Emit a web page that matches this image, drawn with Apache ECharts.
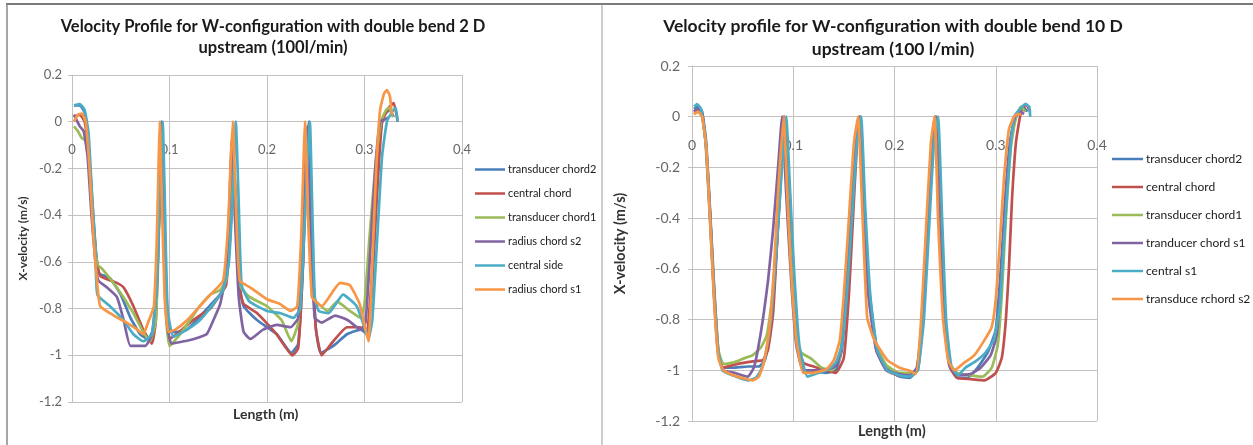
<!DOCTYPE html>
<html>
<head>
<meta charset="utf-8">
<script src="https://cdn.jsdelivr.net/npm/echarts@6/dist/echarts.min.js"></script>
<style>
html,body{margin:0;padding:0;background:#fff;}
#c{width:1253px;height:445px;}
</style>
</head>
<body>
<div id="c"></div>
<script>
// ---------- tick labels ----------
const xTickValues = [0, 0.1, 0.2, 0.3, 0.4];
const xTickLabels = ['0', '0.1', '0.2', '0.3', '0.4'];
const yTickValues = [0.2, 0, -0.2, -0.4, -0.6, -0.8, -1, -1.2];
const yTickLabels = ['0.2', '0', '-0.2', '-0.4', '-0.6', '-0.8', '-1', '-1.2'];

// ---------- titles / names ----------
const leftTitle = 'Velocity Profile for W-configuration with double bend 2 D\nupstream (100l/min)';
const rightTitle = 'Velocity profile for W-configuration with double bend 10 D\nupstream (100 l/min)';
const yName = 'X-velocity (m/s)';
const xName = 'Length (m)';

const leftNames = ['transducer chord2', 'central chord', 'transducer chord1', 'radius chord s2', 'central side', 'radius chord s1'];
const rightNames = ['transducer chord2', 'central chord', 'transducer chord1', 'tranducer chord s1', 'central s1', 'transduce rchord s2'];
const seriesColors = ['#4a7ebb', '#c0504d', '#9bbb59', '#8064a2', '#4bacc6', '#f79646'];

// ---------- LEFT chart data (double bend 2 D) [length m, x-velocity m/s] ----------
const L_tc2 = [[0.002,0.07],[0.008,0.07],[0.013,0.04],[0.017,-0.1],[0.021,-0.35],[0.025,-0.58],[0.028,-0.65],[0.039,-0.67],[0.05,-0.74],[0.06,-0.84],[0.07,-0.91],[0.078,-0.93],[0.085,-0.87],[0.088,-0.6],[0.091,-0.15],[0.092,0.0],[0.094,-0.3],[0.097,-0.75],[0.1,-0.9],[0.108,-0.9],[0.118,-0.89],[0.13,-0.84],[0.143,-0.78],[0.152,-0.74],[0.158,-0.68],[0.162,-0.5],[0.166,-0.2],[0.169,-0.4],[0.172,-0.7],[0.176,-0.79],[0.19,-0.85],[0.21,-0.91],[0.225,-0.99],[0.232,-0.95],[0.237,-0.6],[0.241,-0.1],[0.243,0.0],[0.246,-0.5],[0.25,-0.88],[0.255,-0.99],[0.268,-0.96],[0.282,-0.91],[0.296,-0.89],[0.303,-0.91],[0.308,-0.7],[0.312,-0.35],[0.316,-0.05],[0.32,0.03],[0.326,0.05],[0.33,0.02]];
const L_cc = [[0.002,0.02],[0.008,0.03],[0.013,0.0],[0.017,-0.12],[0.021,-0.38],[0.025,-0.58],[0.029,-0.66],[0.046,-0.69],[0.053,-0.71],[0.063,-0.79],[0.073,-0.89],[0.082,-0.95],[0.086,-0.85],[0.089,-0.45],[0.092,-0.02],[0.094,-0.35],[0.097,-0.8],[0.1,-0.93],[0.11,-0.9],[0.121,-0.86],[0.131,-0.83],[0.142,-0.8],[0.152,-0.74],[0.158,-0.7],[0.162,-0.5],[0.166,-0.18],[0.169,-0.45],[0.172,-0.72],[0.176,-0.78],[0.19,-0.82],[0.21,-0.91],[0.226,-1.0],[0.232,-0.97],[0.237,-0.6],[0.241,-0.05],[0.243,-0.02],[0.246,-0.5],[0.25,-0.88],[0.256,-1.0],[0.268,-0.94],[0.282,-0.88],[0.295,-0.88],[0.302,-0.89],[0.307,-0.7],[0.313,-0.3],[0.318,0.0],[0.325,0.06],[0.33,0.08],[0.334,0.0]];
const L_tc1 = [[0.002,-0.02],[0.006,-0.04],[0.01,-0.07],[0.014,-0.08],[0.018,-0.2],[0.022,-0.45],[0.026,-0.61],[0.031,-0.63],[0.046,-0.71],[0.063,-0.82],[0.073,-0.9],[0.08,-0.94],[0.086,-0.85],[0.089,-0.5],[0.091,-0.1],[0.093,-0.3],[0.096,-0.8],[0.1,-0.96],[0.111,-0.91],[0.121,-0.85],[0.131,-0.79],[0.142,-0.74],[0.152,-0.72],[0.158,-0.68],[0.162,-0.5],[0.166,-0.2],[0.169,-0.45],[0.172,-0.7],[0.182,-0.75],[0.2,-0.79],[0.215,-0.85],[0.225,-0.94],[0.232,-0.86],[0.236,-0.5],[0.24,-0.05],[0.242,-0.02],[0.245,-0.5],[0.249,-0.76],[0.253,-0.78],[0.262,-0.81],[0.272,-0.77],[0.285,-0.81],[0.296,-0.84],[0.3,-0.78],[0.305,-0.5],[0.311,-0.2],[0.317,0.0],[0.322,0.05],[0.325,0.06],[0.329,0.02]];
const L_rcs2 = [[0.002,0.03],[0.008,-0.02],[0.012,-0.04],[0.016,-0.15],[0.02,-0.4],[0.024,-0.6],[0.027,-0.68],[0.036,-0.71],[0.046,-0.75],[0.053,-0.85],[0.06,-0.96],[0.075,-0.96],[0.082,-0.91],[0.087,-0.7],[0.09,-0.3],[0.092,-0.05],[0.094,-0.4],[0.097,-0.85],[0.102,-0.95],[0.115,-0.94],[0.125,-0.93],[0.138,-0.91],[0.145,-0.85],[0.152,-0.78],[0.158,-0.65],[0.161,-0.4],[0.164,-0.08],[0.167,-0.4],[0.171,-0.75],[0.176,-0.9],[0.183,-0.93],[0.196,-0.89],[0.21,-0.87],[0.224,-0.88],[0.232,-0.84],[0.236,-0.5],[0.24,-0.05],[0.242,-0.02],[0.245,-0.5],[0.249,-0.84],[0.256,-0.86],[0.27,-0.83],[0.283,-0.85],[0.296,-0.89],[0.301,-0.86],[0.306,-0.55],[0.311,-0.2],[0.316,0.0],[0.321,0.01],[0.325,0.02]];
const L_cs = [[0.002,0.07],[0.008,0.075],[0.013,0.05],[0.017,-0.05],[0.021,-0.35],[0.024,-0.55],[0.026,-0.74],[0.039,-0.79],[0.053,-0.85],[0.063,-0.91],[0.073,-0.94],[0.082,-0.91],[0.087,-0.7],[0.09,-0.3],[0.093,0.0],[0.095,-0.3],[0.098,-0.8],[0.104,-0.92],[0.118,-0.89],[0.131,-0.85],[0.145,-0.78],[0.155,-0.72],[0.161,-0.6],[0.165,-0.3],[0.168,0.0],[0.171,-0.35],[0.174,-0.7],[0.182,-0.77],[0.2,-0.81],[0.214,-0.82],[0.227,-0.84],[0.234,-0.8],[0.239,-0.4],[0.244,0.0],[0.246,-0.3],[0.249,-0.75],[0.253,-0.81],[0.263,-0.82],[0.278,-0.74],[0.292,-0.79],[0.3,-0.88],[0.304,-0.93],[0.308,-0.85],[0.313,-0.5],[0.318,-0.15],[0.323,0.0],[0.328,0.04],[0.332,0.06],[0.334,0.0]];
const L_rcs1 = [[0.002,0.0],[0.006,0.03],[0.01,0.035],[0.014,0.0],[0.018,-0.2],[0.022,-0.5],[0.026,-0.7],[0.029,-0.79],[0.043,-0.83],[0.056,-0.86],[0.067,-0.89],[0.073,-0.91],[0.078,-0.86],[0.084,-0.79],[0.087,-0.5],[0.089,-0.15],[0.09,0.0],[0.092,-0.3],[0.095,-0.75],[0.099,-0.9],[0.106,-0.89],[0.118,-0.85],[0.131,-0.79],[0.142,-0.74],[0.155,-0.68],[0.16,-0.45],[0.163,-0.15],[0.165,0.0],[0.168,-0.35],[0.172,-0.68],[0.183,-0.71],[0.2,-0.76],[0.213,-0.78],[0.224,-0.81],[0.231,-0.79],[0.235,-0.5],[0.238,-0.1],[0.239,0.0],[0.242,-0.4],[0.246,-0.75],[0.25,-0.77],[0.256,-0.79],[0.275,-0.69],[0.285,-0.7],[0.295,-0.78],[0.304,-0.94],[0.308,-0.6],[0.312,-0.2],[0.316,0.05],[0.32,0.12],[0.323,0.135],[0.326,0.11],[0.328,0.03]];

// ---------- RIGHT chart data (double bend 10 D) ----------
const R_tc2 = [[0.002,0.03],[0.006,0.04],[0.01,0.02],[0.014,-0.1],[0.018,-0.38],[0.022,-0.68],[0.026,-0.92],[0.03,-0.99],[0.04,-0.99],[0.055,-0.985],[0.066,-0.985],[0.072,-0.96],[0.077,-0.86],[0.082,-0.62],[0.087,-0.3],[0.091,0.0],[0.095,-0.3],[0.099,-0.62],[0.104,-0.88],[0.11,-1.0],[0.12,-1.005],[0.132,-1.01],[0.142,-1.0],[0.148,-0.92],[0.153,-0.68],[0.158,-0.38],[0.162,-0.12],[0.166,0.0],[0.17,-0.35],[0.175,-0.68],[0.182,-0.9],[0.192,-0.99],[0.205,-1.025],[0.215,-1.03],[0.222,-1.0],[0.228,-0.82],[0.233,-0.45],[0.238,-0.1],[0.241,0.0],[0.245,-0.4],[0.25,-0.8],[0.255,-0.98],[0.262,-1.03],[0.272,-1.03],[0.282,-0.99],[0.292,-0.93],[0.3,-0.84],[0.305,-0.6],[0.31,-0.3],[0.316,-0.06],[0.322,0.02],[0.327,0.04],[0.331,0.02]];
const R_cc = [[0.002,0.02],[0.006,0.03],[0.01,0.01],[0.014,-0.12],[0.018,-0.4],[0.022,-0.7],[0.026,-0.93],[0.03,-0.99],[0.045,-0.975],[0.06,-0.965],[0.07,-0.96],[0.075,-0.92],[0.08,-0.78],[0.084,-0.5],[0.088,-0.2],[0.091,0.0],[0.095,-0.3],[0.099,-0.62],[0.104,-0.88],[0.11,-0.97],[0.12,-0.985],[0.132,-1.0],[0.142,-1.01],[0.15,-0.95],[0.155,-0.7],[0.159,-0.4],[0.163,-0.1],[0.166,0.0],[0.17,-0.35],[0.175,-0.7],[0.182,-0.92],[0.192,-1.0],[0.205,-1.02],[0.215,-1.02],[0.223,-1.0],[0.228,-0.8],[0.233,-0.45],[0.238,-0.1],[0.241,0.0],[0.245,-0.4],[0.25,-0.8],[0.255,-0.99],[0.262,-1.03],[0.275,-1.035],[0.289,-1.04],[0.3,-1.01],[0.306,-0.95],[0.31,-0.8],[0.313,-0.6],[0.316,-0.33],[0.32,-0.1],[0.325,0.02],[0.33,0.05],[0.334,0.02]];
const R_tc1 = [[0.002,0.01],[0.006,0.02],[0.01,0.0],[0.014,-0.12],[0.018,-0.4],[0.022,-0.7],[0.026,-0.92],[0.031,-0.975],[0.04,-0.97],[0.05,-0.955],[0.06,-0.94],[0.068,-0.91],[0.074,-0.86],[0.079,-0.72],[0.084,-0.45],[0.088,-0.15],[0.09,0.0],[0.094,-0.3],[0.099,-0.65],[0.103,-0.88],[0.108,-0.93],[0.118,-0.955],[0.128,-0.99],[0.138,-1.0],[0.146,-0.95],[0.151,-0.75],[0.156,-0.45],[0.161,-0.12],[0.165,0.0],[0.169,-0.35],[0.174,-0.68],[0.182,-0.9],[0.192,-0.98],[0.205,-1.01],[0.215,-1.01],[0.222,-1.0],[0.227,-0.8],[0.232,-0.45],[0.237,-0.1],[0.24,0.0],[0.244,-0.4],[0.249,-0.8],[0.254,-0.97],[0.262,-1.01],[0.275,-1.02],[0.287,-1.025],[0.296,-0.99],[0.302,-0.9],[0.306,-0.7],[0.31,-0.4],[0.315,-0.12],[0.32,0.0],[0.325,0.04],[0.329,0.02]];
const R_tcs1 = [[0.002,0.02],[0.006,0.03],[0.01,0.01],[0.014,-0.12],[0.018,-0.4],[0.022,-0.72],[0.026,-0.94],[0.031,-1.0],[0.042,-1.01],[0.055,-1.025],[0.061,-0.99],[0.065,-0.92],[0.07,-0.8],[0.075,-0.65],[0.08,-0.45],[0.085,-0.2],[0.089,0.0],[0.093,-0.3],[0.098,-0.65],[0.103,-0.9],[0.11,-1.0],[0.122,-1.0],[0.135,-0.995],[0.143,-0.98],[0.148,-0.9],[0.153,-0.65],[0.158,-0.35],[0.162,-0.08],[0.165,0.0],[0.169,-0.35],[0.174,-0.7],[0.182,-0.92],[0.192,-1.0],[0.205,-1.015],[0.215,-1.02],[0.222,-0.99],[0.227,-0.8],[0.232,-0.45],[0.237,-0.1],[0.24,0.0],[0.244,-0.4],[0.249,-0.8],[0.254,-0.98],[0.262,-1.02],[0.275,-1.015],[0.285,-0.99],[0.295,-0.94],[0.301,-0.86],[0.305,-0.65],[0.309,-0.35],[0.314,-0.1],[0.319,0.0],[0.324,0.02],[0.328,0.01]];
const R_cs1 = [[0.002,0.04],[0.005,0.05],[0.009,0.03],[0.013,-0.08],[0.017,-0.35],[0.021,-0.65],[0.025,-0.9],[0.03,-1.0],[0.04,-1.02],[0.055,-1.04],[0.063,-1.03],[0.068,-1.0],[0.073,-0.93],[0.078,-0.8],[0.083,-0.55],[0.088,-0.25],[0.093,0.0],[0.097,-0.3],[0.101,-0.62],[0.106,-0.9],[0.114,-1.025],[0.125,-1.01],[0.135,-0.995],[0.142,-0.97],[0.148,-0.9],[0.153,-0.7],[0.158,-0.4],[0.163,-0.1],[0.167,0.0],[0.171,-0.35],[0.176,-0.7],[0.183,-0.92],[0.193,-1.0],[0.205,-1.02],[0.215,-1.025],[0.223,-1.0],[0.229,-0.8],[0.234,-0.45],[0.239,-0.1],[0.243,0.0],[0.247,-0.4],[0.251,-0.8],[0.256,-0.98],[0.263,-1.02],[0.27,-0.99],[0.28,-0.965],[0.29,-0.93],[0.298,-0.88],[0.304,-0.75],[0.308,-0.5],[0.313,-0.2],[0.318,0.0],[0.324,0.03],[0.329,0.05],[0.333,0.04],[0.334,0.0]];
const R_tcs2 = [[0.002,0.01],[0.006,0.02],[0.01,0.0],[0.014,-0.12],[0.018,-0.42],[0.022,-0.74],[0.026,-0.95],[0.031,-1.0],[0.045,-1.025],[0.06,-1.04],[0.066,-1.025],[0.071,-0.97],[0.076,-0.85],[0.081,-0.6],[0.085,-0.3],[0.0905,0.0],[0.094,-0.3],[0.098,-0.62],[0.103,-0.88],[0.11,-1.01],[0.12,-1.01],[0.133,-0.995],[0.14,-0.96],[0.146,-0.88],[0.15,-0.7],[0.155,-0.4],[0.16,-0.1],[0.164,0.0],[0.168,-0.35],[0.173,-0.79],[0.18,-0.88],[0.193,-0.96],[0.205,-0.99],[0.214,-1.0],[0.221,-1.015],[0.226,-0.82],[0.231,-0.45],[0.236,-0.1],[0.2396,0.0],[0.243,-0.4],[0.248,-0.8],[0.253,-0.96],[0.259,-1.0],[0.269,-0.97],[0.279,-0.94],[0.289,-0.88],[0.296,-0.83],[0.3,-0.72],[0.304,-0.5],[0.308,-0.25],[0.313,-0.05],[0.318,0.0],[0.322,0.01],[0.325,0.01]];

const leftData = [L_tc2, L_cc, L_tc1, L_rcs2, L_cs, L_rcs1];
const rightData = [R_tc2, R_cc, R_tc1, R_tcs1, R_cs1, R_tcs2];

// ---------- build ----------
const gridColor = '#c6bfbf';
const fontFam = 'Lato, "Open Sans", sans-serif';
function lab(values, labels) {
  return function (v) {
    for (let i = 0; i < values.length; i++) if (Math.abs(values[i] - v) < 1e-6) return labels[i];
    return '';
  };
}
// x axis labels placed next to y = 0, via a negative offset from the grid bottom
function xAxisDef(gi, fs, margin, off) {
  return {
    type: 'value', gridIndex: gi, min: 0, max: 0.4, interval: 0.1, position: 'bottom', offset: off,
    axisLine: { show: false, onZero: false },
    axisTick: { show: false },
    axisLabel: { formatter: lab(xTickValues, xTickLabels), color: '#666', fontSize: fs, fontFamily: fontFam, margin: margin },
    splitLine: { show: true, lineStyle: { color: gridColor, width: 1 } }
  };
}
function yAxisDef(gi, fs, gap, nfs, lm) {
  return {
    type: 'value', gridIndex: gi, min: -1.2, max: 0.2, interval: 0.2,
    name: yName, nameLocation: 'middle', nameGap: gap, nameRotate: 90,
    nameTextStyle: { fontSize: nfs, fontWeight: 'bold', color: '#333', fontFamily: fontFam },
    axisLine: { show: true, lineStyle: { color: gridColor, width: 1 } },
    axisTick: { show: true, length: 4, lineStyle: { color: gridColor } },
    axisLabel: { formatter: lab(yTickValues, yTickLabels), color: '#666', fontSize: fs, fontFamily: fontFam, margin: lm },
    splitLine: { show: true, lineStyle: { color: gridColor, width: 1 } }
  };
}
const series = [];
leftNames.forEach((n, i) => series.push({
  name: n, type: 'line', xAxisIndex: 0, yAxisIndex: 0, data: leftData[i], symbol: 'none',
  smooth: 0.15, lineStyle: { width: 2.7, color: seriesColors[i] }, itemStyle: { color: seriesColors[i] }, z: 2 + i
}));
rightNames.forEach((n, i) => series.push({
  name: n, type: 'line', xAxisIndex: 1, yAxisIndex: 1, data: rightData[i], symbol: 'none',
  smooth: 0.15, lineStyle: { width: 2.7, color: seriesColors[i] }, itemStyle: { color: seriesColors[i] }, z: 2 + i
}));

const chart = echarts.init(document.getElementById('c'), null, { renderer: 'canvas' });
chart.setOption({
  backgroundColor: '#ffffff',
  animation: false,
  title: [
    { text: leftTitle, left: 268, top: 11, textAlign: 'center',
      textStyle: { fontSize: 16.5, fontWeight: 'bold', color: '#1a1a1a', fontFamily: fontFam, lineHeight: 21 } },
    { text: rightTitle, left: 888, top: 10, textAlign: 'center',
      textStyle: { fontSize: 17.5, fontWeight: 'bold', color: '#1a1a1a', fontFamily: fontFam, lineHeight: 23 } }
  ],
  legend: [
    { data: leftNames, orient: 'vertical', left: 470, top: 158, icon: 'rect', itemWidth: 30, itemHeight: 2.5, itemGap: 11,
      textStyle: { fontSize: 11, lineHeight: 13, color: '#1a1a1a', fontFamily: fontFam, padding: [0, 0, 0, -2] }, selectedMode: false },
    { data: rightNames, orient: 'vertical', left: 1107, top: 147, icon: 'rect', itemWidth: 31, itemHeight: 2.5, itemGap: 14,
      textStyle: { fontSize: 12, lineHeight: 14, color: '#1a1a1a', fontFamily: fontFam, padding: [0, 0, 0, -2] }, selectedMode: false }
  ],
  grid: [
    { left: 72, top: 75, width: 390, height: 327, containLabel: false },
    { left: 692, top: 66, width: 405, height: 355, containLabel: false }
  ],
  xAxis: [xAxisDef(0, 13, 21, -280), xAxisDef(1, 14, 22, -305)],
  yAxis: [yAxisDef(0, 13, 43, 12, 10), yAxisDef(1, 14, 64, 14.5, 12)],
  series: series,
  graphic: [
    { type: 'line', shape: { x1: 6, y1: 4, x2: 1253, y2: 4 }, style: { stroke: '#7a7a7a', lineWidth: 2 }, silent: true },
    { type: 'line', shape: { x1: 7, y1: 4, x2: 7, y2: 445 }, style: { stroke: '#8a8a8a', lineWidth: 1.5 }, silent: true },
    { type: 'line', shape: { x1: 602, y1: 4, x2: 602, y2: 445 }, style: { stroke: '#9a9a9a', lineWidth: 1 }, silent: true },
    { type: 'text', left: 233, top: 407, style: { text: xName, font: 'bold 14px ' + fontFam, fill: '#333' } },
    { type: 'text', left: 858, top: 424, style: { text: xName, font: 'bold 14.5px ' + fontFam, fill: '#333' } }
  ]
});
</script>
</body>
</html>
